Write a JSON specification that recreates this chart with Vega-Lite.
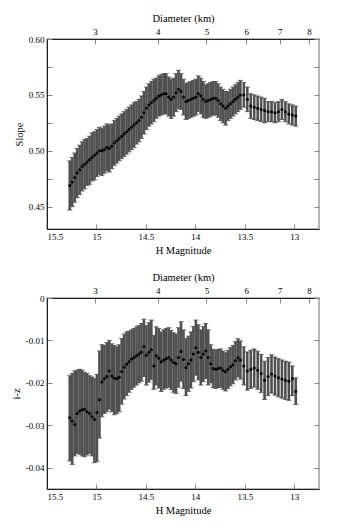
{
 "$schema": "https://vega.github.io/schema/vega-lite/v6.json",
 "background": "white",
 "padding": {"left": 10, "top": 12, "right": 5, "bottom": 5},
 "spacing": 14,
 "config": {
  "font": "Liberation Serif, Times New Roman, serif",
  "view": {"stroke": "#a0a0a0", "strokeWidth": 1.5},
  "axis": {"labelFont": "Liberation Serif, Times New Roman, serif", "titleFont": "Liberation Serif, Times New Roman, serif", "labelFontSize": 9, "titleFontSize": 10.5, "titleFontWeight": "normal", "labelColor": "#000", "titleColor": "#000", "grid": false, "domainColor": "#222", "tickColor": "#888", "tickSize": -5, "labelPadding": 8}
 },
 "datasets": {
  "diam": [{"D": 3}, {"D": 8}],
  "main": [
   {"H":15.27,"s":0.469,"slo":0.447,"shi":0.491,"iz":-0.0282,"izlo":-0.0384,"izhi":-0.0183},
   {"H":15.245,"s":0.472,"slo":0.450,"shi":0.494,"iz":-0.0290,"izlo":-0.0392,"izhi":-0.0178},
   {"H":15.22,"s":0.476,"slo":0.454,"shi":0.498,"iz":-0.0298,"izlo":-0.0372,"izhi":-0.0172},
   {"H":15.195,"s":0.480,"slo":0.458,"shi":0.502,"iz":-0.0272,"izlo":-0.0366,"izhi":-0.0170},
   {"H":15.17,"s":0.483,"slo":0.461,"shi":0.505,"iz":-0.0266,"izlo":-0.0368,"izhi":-0.0168},
   {"H":15.145,"s":0.486,"slo":0.464,"shi":0.508,"iz":-0.0263,"izlo":-0.0372,"izhi":-0.0170},
   {"H":15.12,"s":0.488,"slo":0.466,"shi":0.510,"iz":-0.0262,"izlo":-0.0374,"izhi":-0.0175},
   {"H":15.095,"s":0.490,"slo":0.469,"shi":0.511,"iz":-0.0268,"izlo":-0.0370,"izhi":-0.0178},
   {"H":15.07,"s":0.492,"slo":0.470,"shi":0.513,"iz":-0.0272,"izlo":-0.0366,"izhi":-0.0183},
   {"H":15.045,"s":0.494,"slo":0.473,"shi":0.516,"iz":-0.0280,"izlo":-0.0372,"izhi":-0.0186},
   {"H":15.02,"s":0.496,"slo":0.474,"shi":0.517,"iz":-0.0286,"izlo":-0.0388,"izhi":-0.0190},
   {"H":14.995,"s":0.498,"slo":0.477,"shi":0.519,"iz":-0.0270,"izlo":-0.0385,"izhi":-0.0180},
   {"H":14.97,"s":0.500,"slo":0.479,"shi":0.521,"iz":-0.0240,"izlo":-0.0330,"izhi":-0.0125},
   {"H":14.945,"s":0.500,"slo":0.478,"shi":0.520,"iz":-0.0198,"izlo":-0.0280,"izhi":-0.0110},
   {"H":14.92,"s":0.501,"slo":0.480,"shi":0.522,"iz":-0.0190,"izlo":-0.0272,"izhi":-0.0112},
   {"H":14.895,"s":0.503,"slo":0.482,"shi":0.524,"iz":-0.0185,"izlo":-0.0268,"izhi":-0.0105},
   {"H":14.87,"s":0.502,"slo":0.481,"shi":0.523,"iz":-0.0172,"izlo":-0.0262,"izhi":-0.0100},
   {"H":14.845,"s":0.504,"slo":0.484,"shi":0.524,"iz":-0.0184,"izlo":-0.0268,"izhi":-0.0108},
   {"H":14.82,"s":0.507,"slo":0.487,"shi":0.527,"iz":-0.0189,"izlo":-0.0275,"izhi":-0.0112},
   {"H":14.795,"s":0.509,"slo":0.489,"shi":0.529,"iz":-0.0190,"izlo":-0.0272,"izhi":-0.0115},
   {"H":14.77,"s":0.511,"slo":0.491,"shi":0.531,"iz":-0.0187,"izlo":-0.0268,"izhi":-0.0110},
   {"H":14.745,"s":0.513,"slo":0.493,"shi":0.533,"iz":-0.0173,"izlo":-0.0250,"izhi":-0.0095},
   {"H":14.72,"s":0.515,"slo":0.495,"shi":0.535,"iz":-0.0163,"izlo":-0.0238,"izhi":-0.0085},
   {"H":14.695,"s":0.517,"slo":0.497,"shi":0.537,"iz":-0.0156,"izlo":-0.0230,"izhi":-0.0080},
   {"H":14.67,"s":0.519,"slo":0.499,"shi":0.539,"iz":-0.0150,"izlo":-0.0222,"izhi":-0.0078},
   {"H":14.645,"s":0.521,"slo":0.501,"shi":0.541,"iz":-0.0144,"izlo":-0.0215,"izhi":-0.0075},
   {"H":14.62,"s":0.523,"slo":0.503,"shi":0.543,"iz":-0.0140,"izlo":-0.0210,"izhi":-0.0072},
   {"H":14.595,"s":0.525,"slo":0.506,"shi":0.544,"iz":-0.0136,"izlo":-0.0205,"izhi":-0.0068},
   {"H":14.57,"s":0.527,"slo":0.508,"shi":0.546,"iz":-0.0132,"izlo":-0.0200,"izhi":-0.0065},
   {"H":14.545,"s":0.530,"slo":0.511,"shi":0.549,"iz":-0.0127,"izlo":-0.0196,"izhi":-0.0060},
   {"H":14.52,"s":0.534,"slo":0.515,"shi":0.553,"iz":-0.0114,"izlo":-0.0185,"izhi":-0.0050},
   {"H":14.495,"s":0.538,"slo":0.519,"shi":0.557,"iz":-0.0135,"izlo":-0.0205,"izhi":-0.0065},
   {"H":14.47,"s":0.541,"slo":0.522,"shi":0.560,"iz":-0.0128,"izlo":-0.0198,"izhi":-0.0058},
   {"H":14.445,"s":0.543,"slo":0.524,"shi":0.562,"iz":-0.0122,"izlo":-0.0192,"izhi":-0.0052},
   {"H":14.42,"s":0.545,"slo":0.526,"shi":0.564,"iz":-0.0160,"izlo":-0.0215,"izhi":-0.0088},
   {"H":14.395,"s":0.547,"slo":0.529,"shi":0.565,"iz":-0.0136,"izlo":-0.0205,"izhi":-0.0068},
   {"H":14.37,"s":0.549,"slo":0.531,"shi":0.567,"iz":-0.0142,"izlo":-0.0212,"izhi":-0.0072},
   {"H":14.345,"s":0.550,"slo":0.532,"shi":0.568,"iz":-0.0150,"izlo":-0.0220,"izhi":-0.0080},
   {"H":14.32,"s":0.551,"slo":0.533,"shi":0.569,"iz":-0.0146,"izlo":-0.0215,"izhi":-0.0075},
   {"H":14.295,"s":0.551,"slo":0.533,"shi":0.569,"iz":-0.0143,"izlo":-0.0212,"izhi":-0.0072},
   {"H":14.27,"s":0.548,"slo":0.531,"shi":0.566,"iz":-0.0140,"izlo":-0.0210,"izhi":-0.0070},
   {"H":14.245,"s":0.546,"slo":0.529,"shi":0.564,"iz":-0.0146,"izlo":-0.0216,"izhi":-0.0076},
   {"H":14.22,"s":0.548,"slo":0.531,"shi":0.565,"iz":-0.0152,"izlo":-0.0222,"izhi":-0.0082},
   {"H":14.195,"s":0.552,"slo":0.535,"shi":0.569,"iz":-0.0155,"izlo":-0.0225,"izhi":-0.0085},
   {"H":14.17,"s":0.555,"slo":0.538,"shi":0.572,"iz":-0.0140,"izlo":-0.0210,"izhi":-0.0070},
   {"H":14.145,"s":0.553,"slo":0.537,"shi":0.569,"iz":-0.0126,"izlo":-0.0196,"izhi":-0.0056},
   {"H":14.12,"s":0.548,"slo":0.532,"shi":0.564,"iz":-0.0145,"izlo":-0.0213,"izhi":-0.0075},
   {"H":14.095,"s":0.544,"slo":0.528,"shi":0.560,"iz":-0.0164,"izlo":-0.0230,"izhi":-0.0095},
   {"H":14.07,"s":0.545,"slo":0.529,"shi":0.561,"iz":-0.0155,"izlo":-0.0220,"izhi":-0.0090},
   {"H":14.045,"s":0.546,"slo":0.530,"shi":0.562,"iz":-0.0146,"izlo":-0.0212,"izhi":-0.0080},
   {"H":14.02,"s":0.547,"slo":0.531,"shi":0.563,"iz":-0.0132,"izlo":-0.0197,"izhi":-0.0067},
   {"H":13.995,"s":0.548,"slo":0.532,"shi":0.564,"iz":-0.0117,"izlo":-0.0182,"izhi":-0.0052},
   {"H":13.97,"s":0.551,"slo":0.535,"shi":0.567,"iz":-0.0128,"izlo":-0.0193,"izhi":-0.0063},
   {"H":13.945,"s":0.549,"slo":0.533,"shi":0.565,"iz":-0.0140,"izlo":-0.0205,"izhi":-0.0075},
   {"H":13.92,"s":0.546,"slo":0.530,"shi":0.562,"iz":-0.0132,"izlo":-0.0197,"izhi":-0.0067},
   {"H":13.895,"s":0.544,"slo":0.529,"shi":0.559,"iz":-0.0125,"izlo":-0.0190,"izhi":-0.0060},
   {"H":13.87,"s":0.545,"slo":0.530,"shi":0.560,"iz":-0.0140,"izlo":-0.0205,"izhi":-0.0075},
   {"H":13.845,"s":0.546,"slo":0.531,"shi":0.561,"iz":-0.0155,"izlo":-0.0200,"izhi":-0.0110},
   {"H":13.82,"s":0.547,"slo":0.532,"shi":0.562,"iz":-0.0166,"izlo":-0.0211,"izhi":-0.0121},
   {"H":13.795,"s":0.547,"slo":0.532,"shi":0.562,"iz":-0.0168,"izlo":-0.0213,"izhi":-0.0123},
   {"H":13.77,"s":0.545,"slo":0.530,"shi":0.560,"iz":-0.0166,"izlo":-0.0211,"izhi":-0.0121},
   {"H":13.745,"s":0.542,"slo":0.527,"shi":0.557,"iz":-0.0165,"izlo":-0.0210,"izhi":-0.0120},
   {"H":13.72,"s":0.540,"slo":0.525,"shi":0.555,"iz":-0.0170,"izlo":-0.0215,"izhi":-0.0125},
   {"H":13.695,"s":0.538,"slo":0.523,"shi":0.553,"iz":-0.0174,"izlo":-0.0219,"izhi":-0.0129},
   {"H":13.67,"s":0.540,"slo":0.527,"shi":0.553,"iz":-0.0168,"izlo":-0.0213,"izhi":-0.0123},
   {"H":13.645,"s":0.542,"slo":0.529,"shi":0.555,"iz":-0.0162,"izlo":-0.0207,"izhi":-0.0117},
   {"H":13.62,"s":0.544,"slo":0.531,"shi":0.557,"iz":-0.0157,"izlo":-0.0202,"izhi":-0.0112},
   {"H":13.595,"s":0.546,"slo":0.533,"shi":0.559,"iz":-0.0148,"izlo":-0.0193,"izhi":-0.0103},
   {"H":13.57,"s":0.548,"slo":0.535,"shi":0.561,"iz":-0.0141,"izlo":-0.0186,"izhi":-0.0096},
   {"H":13.545,"s":0.550,"slo":0.537,"shi":0.563,"iz":-0.0146,"izlo":-0.0191,"izhi":-0.0101},
   {"H":13.51,"s":0.550,"slo":0.539,"shi":0.561,"iz":-0.0160,"izlo":-0.0205,"izhi":-0.0115},
   {"H":13.475,"s":0.546,"slo":0.535,"shi":0.557,"iz":-0.0172,"izlo":-0.0217,"izhi":-0.0127},
   {"H":13.44,"s":0.540,"slo":0.529,"shi":0.551,"iz":-0.0168,"izlo":-0.0213,"izhi":-0.0123},
   {"H":13.405,"s":0.539,"slo":0.528,"shi":0.550,"iz":-0.0165,"izlo":-0.0210,"izhi":-0.0120},
   {"H":13.37,"s":0.538,"slo":0.527,"shi":0.549,"iz":-0.0170,"izlo":-0.0215,"izhi":-0.0125},
   {"H":13.335,"s":0.537,"slo":0.526,"shi":0.548,"iz":-0.0178,"izlo":-0.0223,"izhi":-0.0133},
   {"H":13.30,"s":0.536,"slo":0.525,"shi":0.547,"iz":-0.0194,"izlo":-0.0239,"izhi":-0.0149},
   {"H":13.265,"s":0.535,"slo":0.526,"shi":0.544,"iz":-0.0185,"izlo":-0.0230,"izhi":-0.0140},
   {"H":13.23,"s":0.535,"slo":0.526,"shi":0.544,"iz":-0.0179,"izlo":-0.0224,"izhi":-0.0134},
   {"H":13.195,"s":0.534,"slo":0.525,"shi":0.543,"iz":-0.0184,"izlo":-0.0229,"izhi":-0.0139},
   {"H":13.16,"s":0.535,"slo":0.526,"shi":0.544,"iz":-0.0188,"izlo":-0.0233,"izhi":-0.0143},
   {"H":13.125,"s":0.537,"slo":0.528,"shi":0.546,"iz":-0.0191,"izlo":-0.0236,"izhi":-0.0146},
   {"H":13.09,"s":0.535,"slo":0.526,"shi":0.544,"iz":-0.0194,"izlo":-0.0239,"izhi":-0.0149},
   {"H":13.055,"s":0.533,"slo":0.524,"shi":0.542,"iz":-0.0196,"izlo":-0.0241,"izhi":-0.0151},
   {"H":13.02,"s":0.532,"slo":0.523,"shi":0.541,"iz":-0.0190,"izlo":-0.0230,"izhi":-0.0160},
   {"H":12.985,"s":0.531,"slo":0.522,"shi":0.540,"iz":-0.0220,"izlo":-0.0251,"izhi":-0.0188}
  ]
 },
 "vconcat": [
  {
   "width": 272, "height": 190,
   "layer": [
    {
     "data": {"name": "main"},
     "mark": {"type": "errorbar", "ticks": {"size": 5, "color": "#2a2a2a", "strokeWidth": 1}, "rule": {"color": "#505050", "strokeWidth": 2.6}},
     "encoding": {
      "x": {"field": "H", "type": "quantitative", "scale": {"domain": [12.75, 15.5], "reverse": true, "nice": false, "zero": false},
            "axis": {"orient": "bottom", "values": [15.5, 15, 14.5, 14, 13.5, 13], "format": "~g", "title": "H Magnitude"}},
      "y": {"field": "slo", "type": "quantitative", "scale": {"domain": [0.43, 0.6], "nice": false, "zero": false},
            "axis": {"orient": "left", "values": [0.45, 0.475, 0.5, 0.525, 0.55, 0.575, 0.6], "labelExpr": "round(datum.value*1000) % 50 == 0 ? format(datum.value, '.2f') : ''", "title": "Slope"}},
      "y2": {"field": "shi"}
     }
    },
    {
     "data": {"name": "main"},
     "mark": {"type": "point", "filled": true, "size": 9, "color": "#000", "opacity": 1},
     "encoding": {
      "x": {"field": "H", "type": "quantitative", "scale": {"domain": [12.75, 15.5], "reverse": true, "nice": false, "zero": false}, "axis": null},
      "y": {"field": "s", "type": "quantitative", "scale": {"domain": [0.43, 0.6], "nice": false, "zero": false},
            "axis": {"orient": "right", "values": [0.45, 0.475, 0.5, 0.525, 0.55, 0.575, 0.6], "labels": false, "domain": false, "title": null}}
     }
    },
    {
     "data": {"name": "diam"},
     "mark": {"type": "point", "opacity": 0},
     "encoding": {
      "x": {"field": "D", "type": "quantitative", "scale": {"type": "log", "domain": [2.407, 8.38], "nice": false},
            "axis": {"orient": "top", "values": [3, 4, 5, 6, 7, 8], "format": "d", "title": "Diameter (km)"}}
     }
    }
   ],
   "resolve": {"scale": {"x": "independent", "y": "independent"}}
  },
  {
   "width": 272, "height": 191,
   "layer": [
    {
     "data": {"name": "main"},
     "mark": {"type": "errorbar", "ticks": {"size": 5, "color": "#2a2a2a", "strokeWidth": 1}, "rule": {"color": "#505050", "strokeWidth": 2.6}},
     "encoding": {
      "x": {"field": "H", "type": "quantitative", "scale": {"domain": [12.75, 15.5], "reverse": true, "nice": false, "zero": false},
            "axis": {"orient": "bottom", "values": [15.5, 15, 14.5, 14, 13.5, 13], "format": "~g", "title": "H Magnitude"}},
      "y": {"field": "izlo", "type": "quantitative", "scale": {"domain": [-0.045, 0], "nice": false, "zero": false},
            "axis": {"orient": "left", "values": [0, -0.01, -0.02, -0.03, -0.04], "labelExpr": "replace(format(datum.value, '~g'), '\u2212', '-')", "title": "i-z"}},
      "y2": {"field": "izhi"}
     }
    },
    {
     "data": {"name": "main"},
     "mark": {"type": "point", "filled": true, "size": 9, "color": "#000", "opacity": 1},
     "encoding": {
      "x": {"field": "H", "type": "quantitative", "scale": {"domain": [12.75, 15.5], "reverse": true, "nice": false, "zero": false}, "axis": null},
      "y": {"field": "iz", "type": "quantitative", "scale": {"domain": [-0.045, 0], "nice": false, "zero": false},
            "axis": {"orient": "right", "values": [0, -0.01, -0.02, -0.03, -0.04], "labels": false, "domain": false, "title": null}}
     }
    },
    {
     "data": {"name": "diam"},
     "mark": {"type": "point", "opacity": 0},
     "encoding": {
      "x": {"field": "D", "type": "quantitative", "scale": {"type": "log", "domain": [2.407, 8.38], "nice": false},
            "axis": {"orient": "top", "values": [3, 4, 5, 6, 7, 8], "format": "d", "title": "Diameter (km)"}}
     }
    }
   ],
   "resolve": {"scale": {"x": "independent", "y": "independent"}}
  }
 ]
}
